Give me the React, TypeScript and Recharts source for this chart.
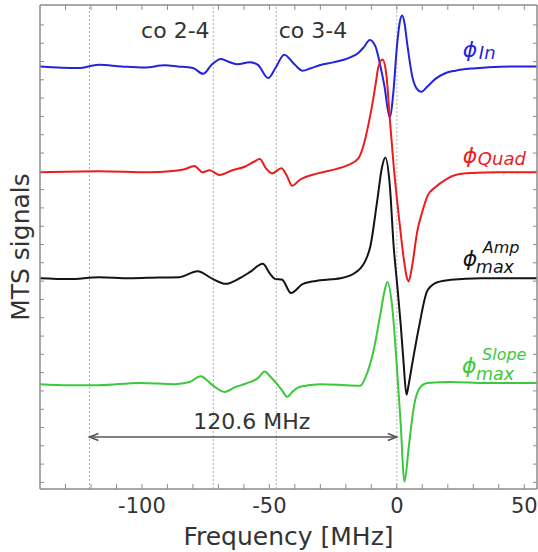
import React from 'react';
import { LineChart, Line, XAxis, YAxis, ReferenceLine, ReferenceDot } from 'recharts';

const FONT = '"DejaVu Sans", Verdana, sans-serif';
const TEXT = '#333333';
const FRAME = '#8c8c8c';

// ---------- data (frequency in MHz, signal in arbitrary units) ----------
const inFreq = [-140, -125, -117, -108, -99, -91, -86, -80, -76, -72.5, -69, -65.5, -62.5, -57.7, -54.5, -50.5, -47.5, -44.2, -40, -37, -34, -30, -25, -18.3, -15, -13, -10.6, -8.4, -6.4, -4.9, -2.8, -1.3, -0.1, 1.1, 2.1, 3.0, 4.1, 6.1, 7.8, 9.5, 12, 15, 19, 23, 29, 35, 45, 55];
const inSig = [0, -0.015, 0.015, 0, -0.01, 0.01, 0, -0.015, -0.07, 0.02, 0.07, 0.04, 0.02, 0.04, 0.015, -0.11, -0.01, 0.11, 0.015, -0.04, -0.02, 0.013, 0.038, 0.085, 0.13, 0.18, 0.25, 0.19, 0.0, -0.18, -0.48, -0.23, 0.15, 0.41, 0.48, 0.41, 0.21, -0.1, -0.21, -0.24, -0.19, -0.12, -0.064, -0.04, -0.02, -0.01, 0, 0];

const quadFreq = [-140, -117, -97, -89, -83.3, -79.4, -76.2, -73.5, -69.5, -64.8, -59.7, -56, -53.8, -51.4, -49, -45.3, -43.1, -41.1, -38, -31, -24, -19, -15, -12.5, -11.2, -10, -8.4, -7.2, -5.6, -4.1, -2.8, -1.2, 0.3, 1.5, 2.8, 3.8, 4.7, 5.6, 6.2, 8, 9.9, 12.1, 15.1, 19.2, 23, 29, 40, 55];
const quadSig = [0, 0.01, 0, 0.01, 0.03, 0.06, 0, 0.02, -0.025, 0.017, 0.053, 0.1, 0.125, 0.04, -0.01, 0.038, -0.035, -0.126, -0.07, -0.01, 0.03, 0.07, 0.135, 0.305, 0.446, 0.59, 0.82, 1.0, 1.066, 0.92, 0.52, 0.05, -0.31, -0.57, -0.83, -0.98, -1.03, -0.94, -0.855, -0.56, -0.38, -0.22, -0.14, -0.068, -0.025, -0.007, 0, 0];

const ampFreq = [-140, -128.7, -116.8, -105, -93.2, -85.3, -78.2, -72.3, -67.2, -61.7, -57.7, -52.6, -49.8, -47.8, -45.1, -41.5, -36.8, -30.1, -22.2, -17.1, -14.4, -12.3, -10.4, -7.7, -5.8, -4.5, -2.8, -1.2, 0.1, 1.5, 2.6, 3.8, 4.6, 6.1, 8.7, 12, 15.9, 21.2, 33, 55];
const ampSig = [0, -0.008, 0.01, 0, 0.007, 0.01, 0.066, -0.006, -0.053, 0, 0.057, 0.136, 0.044, -0.006, -0.012, -0.14, -0.053, -0.02, 0, 0.04, 0.09, 0.167, 0.3, 0.73, 1.05, 1.14, 0.89, 0.29, -0.05, -0.43, -0.78, -1.1, -1.01, -0.8, -0.46, -0.116, -0.038, -0.015, 0, 0];

const slopeFreq = [-140, -128.7, -116.8, -101, -87.2, -81.3, -77, -72.3, -67.6, -63.6, -59, -54.5, -51.8, -49.8, -47.2, -45.1, -43, -40.7, -38, -30, -20, -14.4, -11.7, -9.1, -6.4, -4.9, -3.7, -1.8, 0.2, 1.5, 3.0, 4.7, 6.7, 9.3, 12, 21, 35, 55];
const slopeSig = [0, -0.01, -0.01, 0.012, 0, 0.02, 0.075, -0.01, -0.073, -0.03, 0.007, 0.057, 0.12, 0.075, 0.007, -0.057, -0.12, -0.066, -0.025, 0, -0.01, -0.016, 0.1, 0.32, 0.67, 0.87, 0.965, 0.73, 0.1, -0.37, -0.92, -0.59, -0.21, -0.025, 0.012, 0.02, 0.01, 0.01];

// vertical offsets of the stacked traces
const traceOffsets = { inPhase: 4, quad: 3, amp: 2, slope: 1 };

// axes
const xDomain = [-140, 55];
const yDomain = [0.01, 4.58];
const xTickLabels = [-100, -50, 0, 50];
const xMinorTicks = [-130, -120, -110, -100, -90, -80, -70, -60, -50, -40, -30, -20, -10, 0, 10, 20, 30, 40, 50];
const yMinorTicks = [4.392, 4.219, 4.046, 3.874, 3.701, 3.528, 3.355, 3.182, 3.010, 2.837, 2.664, 2.491, 2.318, 2.146, 1.973, 1.800, 1.627, 1.454, 1.282, 1.109, 0.936, 0.763, 0.590, 0.418, 0.245, 0.072];

// annotations
const markerFreqs = [-120.6, -72, -47.3, 0];
const spacingLabel = '120.6 MHz';
const spacingStart = -120.6;
const spacingEnd = 0;
const crossoverLabels = [
  { text: 'co 2-4', f: -86.9 },
  { text: 'co 3-4', f: -32.9 },
];

const build = (fs: number[], vs: number[], off: number) => fs.map((f, i) => ({ f, v: off + vs[i] }));
const inData = build(inFreq, inSig, traceOffsets.inPhase);
const quadData = build(quadFreq, quadSig, traceOffsets.quad);
const ampData = build(ampFreq, ampSig, traceOffsets.amp);
const slopeData = build(slopeFreq, slopeSig, traceOffsets.slope);

const COLORS = { inPhase: '#2424dc', quad: '#ec1c1c', amp: '#141414', slope: '#3cc83c' };

const phiLabels = [
  { key: 'in', f: 25.9, y: 4.085, color: COLORS.inPhase, sub: 'In', sup: '', subDx: 16, subDy: 2, supDy: 0 },
  { key: 'quad', f: 25.9, y: 3.088, color: COLORS.quad, sub: 'Quad', sup: '', subDx: 15, subDy: 2, supDy: 0 },
  { key: 'amp', f: 25.9, y: 2.116, color: COLORS.amp, sub: 'max', sup: 'Amp', subDx: 13, subDy: 7, supDy: -13 },
  { key: 'slope', f: 25.6, y: 1.101, color: COLORS.slope, sub: 'max', sup: 'Slope', subDx: 14, subDy: 6.5, supDy: -13.5 },
];

const ArrowShape = (p: any) => {
  const { x1, y1, x2, y2 } = p;
  const c = '#555555';
  return (
    <g>
      <line x1={x1} y1={y1} x2={x2} y2={y2} stroke={c} strokeWidth={1.5} />
      <path d={`M${x1 + 9},${y1 - 3.5} L${x1},${y1} L${x1 + 9},${y1 + 3.5}`} fill="none" stroke={c} strokeWidth={1.5} />
      <path d={`M${x2 - 9},${y2 - 3.5} L${x2},${y2} L${x2 - 9},${y2 + 3.5}`} fill="none" stroke={c} strokeWidth={1.5} />
    </g>
  );
};

const textShape = (text: string, size: number) => (p: any) => (
  <text x={p.cx} y={p.cy} textAnchor="middle" fontFamily={FONT} fontSize={size} fill={TEXT}>
    {text}
  </text>
);

const phiShape = (l: any) => (p: any) => (
  <g fill={l.color} fontFamily={FONT} fontStyle="italic">
    <text x={p.cx} y={p.cy} fontSize={22}>ϕ</text>
    {l.sup ? (
      <text x={p.cx + 20} y={p.cy + l.supDy} fontSize={16}>{l.sup}</text>
    ) : null}
    <text x={p.cx + l.subDx} y={p.cy + l.subDy} fontSize={l.sup ? 17.5 : 18}>{l.sub}</text>
  </g>
);

const noLabel = () => <g />;

export default function App() {
  return (
    <div style={{ position: 'absolute', left: 0, top: 0, width: 538, height: 552, background: '#fff' }}>
      <LineChart width={538} height={552} margin={{ top: 5, right: 1, bottom: 0, left: 0 }}>
        <XAxis
          xAxisId="x"
          type="number"
          dataKey="f"
          domain={xDomain}
          allowDataOverflow
          ticks={xTickLabels}
          interval={0}
          height={63}
          tickLine={false}
          tickSize={6}
          tickMargin={3.5}
          axisLine={{ stroke: FRAME, strokeWidth: 1.5 }}
          tick={{ fontSize: 21, fill: TEXT, fontFamily: FONT }}
          label={{ value: 'Frequency [MHz]', position: 'insideBottom', offset: 7.5, style: { fontSize: 25, fill: TEXT, fontFamily: FONT } }}
        />
        <XAxis xAxisId="xm" type="number" dataKey="f" domain={xDomain} allowDataOverflow ticks={xMinorTicks} interval={0} mirror tick={noLabel} axisLine={false} tickSize={5} tickLine={{ stroke: FRAME, strokeWidth: 1 }} />
        <XAxis xAxisId="xt" orientation="top" type="number" dataKey="f" domain={xDomain} allowDataOverflow ticks={xMinorTicks} interval={0} mirror tick={noLabel} axisLine={{ stroke: FRAME, strokeWidth: 1.5 }} tickSize={5} tickLine={{ stroke: FRAME, strokeWidth: 1 }} />
        <YAxis
          yAxisId="y"
          type="number"
          domain={yDomain}
          allowDataOverflow
          ticks={yMinorTicks}
          interval={0}
          width={40}
          tick={false}
          tickLine={false}
          axisLine={{ stroke: FRAME, strokeWidth: 1.5 }}
          label={{ value: 'MTS signals', angle: -90, position: 'center', style: { fontSize: 25, fill: TEXT, fontFamily: FONT } }}
        />
        <YAxis yAxisId="ym" type="number" domain={yDomain} allowDataOverflow ticks={yMinorTicks} interval={0} mirror tick={noLabel} axisLine={false} tickSize={4} tickLine={{ stroke: FRAME, strokeWidth: 1 }} />
        <YAxis yAxisId="yr" orientation="right" type="number" domain={yDomain} allowDataOverflow ticks={yMinorTicks} interval={0} mirror tick={noLabel} axisLine={{ stroke: FRAME, strokeWidth: 1.5 }} tickSize={4} tickLine={{ stroke: FRAME, strokeWidth: 1 }} />

        {markerFreqs.map((f) => (
          <ReferenceLine key={f} xAxisId="x" yAxisId="y" x={f} stroke="#b4b4b4" strokeWidth={1} strokeDasharray="2 2" />
        ))}

        <Line xAxisId="x" yAxisId="y" data={inData} dataKey="v" type="monotone" stroke={COLORS.inPhase} strokeWidth={2} dot={false} activeDot={false} isAnimationActive={false} />
        <Line xAxisId="x" yAxisId="y" data={quadData} dataKey="v" type="monotone" stroke={COLORS.quad} strokeWidth={2} dot={false} activeDot={false} isAnimationActive={false} />
        <Line xAxisId="x" yAxisId="y" data={ampData} dataKey="v" type="monotone" stroke={COLORS.amp} strokeWidth={2} dot={false} activeDot={false} isAnimationActive={false} />
        <Line xAxisId="x" yAxisId="y" data={slopeData} dataKey="v" type="monotone" stroke={COLORS.slope} strokeWidth={2} dot={false} activeDot={false} isAnimationActive={false} />

        <ReferenceLine
          xAxisId="x"
          yAxisId="y"
          segment={[{ x: spacingStart, y: 0.501 }, { x: spacingEnd, y: 0.501 }]}
          shape={ArrowShape}
        />
        <ReferenceDot xAxisId="x" yAxisId="y" x={-56.9} y={0.574} r={0} shape={textShape(spacingLabel, 22)} />
        {crossoverLabels.map((c) => (
          <ReferenceDot key={c.text} xAxisId="x" yAxisId="y" x={c.f} y={4.264} r={0} shape={textShape(c.text, 22)} />
        ))}
        {phiLabels.map((l) => (
          <ReferenceDot key={l.key} xAxisId="x" yAxisId="y" x={l.f} y={l.y} r={0} shape={phiShape(l)} />
        ))}
      </LineChart>
    </div>
  );
}
